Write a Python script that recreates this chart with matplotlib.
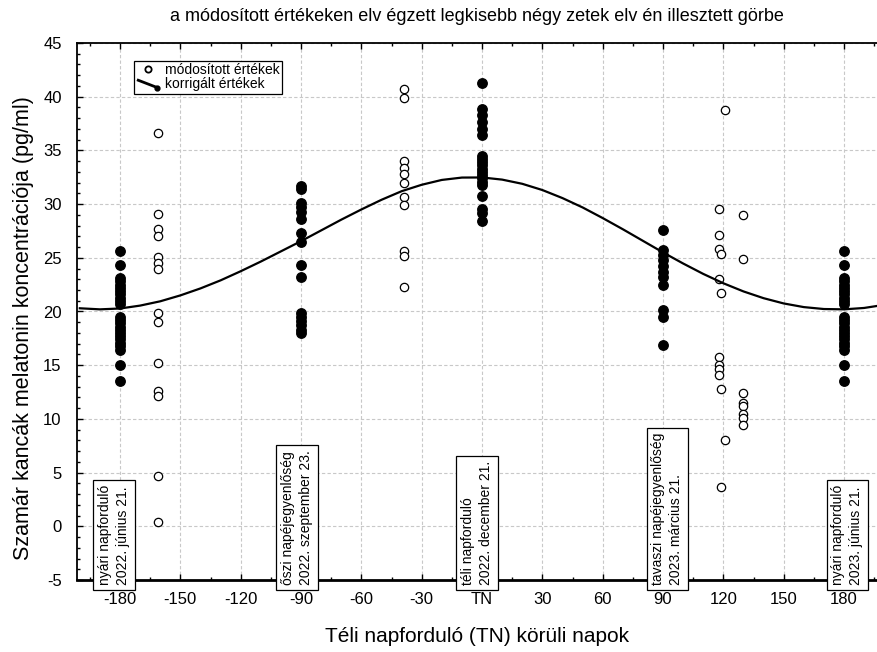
import matplotlib.pyplot as plt
from matplotlib.legend_handler import HandlerBase
from matplotlib.lines import Line2D
from matplotlib.ticker import MultipleLocator, FixedLocator

plt.rcParams['font.family'] = ['Liberation Sans', 'DejaVu Sans']
plt.rcParams['axes.unicode_minus'] = False

# korrigált értékek (filled) - days around winter solstice
jun_values = [25.6, 24.3, 23.1, 22.8, 22.5, 22.2, 21.9, 21.6, 21.3, 21.0, 20.7,
              19.5, 19.2, 18.9, 18.6, 18.3, 18.0, 17.7, 17.4, 17.1, 16.8, 16.4,
              15.0, 13.5]
sep_values = [31.7, 31.4, 30.1, 29.7, 29.3, 28.6, 27.3, 26.5, 24.3, 23.2,
              19.9, 19.5, 19.1, 18.7, 18.3, 18.0]
dec_values = [41.3, 38.9, 38.3, 37.6, 37.0, 36.4, 34.5, 34.2, 33.9, 33.6, 33.3,
              33.0, 32.7, 32.4, 32.1, 31.8, 30.8, 29.5, 29.2, 28.4]
mar_values = [27.6, 25.7, 25.3, 24.8, 24.2, 23.7, 23.2, 22.5, 20.1, 19.5, 16.9]
corr_groups = [(-180, jun_values), (-90, sep_values), (0, dec_values),
               (90, mar_values), (180, jun_values)]

# módosított értékek (open)
mod_days = ([-161] * 14 + [-39] * 11
            + [121, 118, 118, 118, 119, 118, 119, 118, 118, 118, 118, 119, 121, 119]
            + [130] * 8)
mod_values = ([36.6, 29.1, 27.7, 27.0, 25.1, 24.5, 24.0, 19.9, 19.0, 15.2, 12.6, 12.1, 4.7, 0.4]
              + [40.7, 39.9, 34.0, 33.4, 32.8, 32.0, 30.7, 29.9, 25.6, 25.2, 22.3]
              + [38.8, 29.5, 27.1, 25.8, 25.4, 23.0, 21.7, 15.8, 15.0, 14.6, 14.1, 12.8, 8.0, 3.7]
              + [29.0, 24.9, 12.4, 11.5, 11.2, 10.5, 10.1, 9.4])

# fitted curve
curve_days = list(range(-200, 201, 10))
curve_values = [20.30, 20.20, 20.28, 20.55, 20.95, 21.50, 22.15, 22.90, 23.75,
                24.65, 25.60, 26.55, 27.55, 28.55, 29.50, 30.40, 31.20, 31.80,
                32.25, 32.47, 32.48, 32.28, 31.89, 31.31, 30.56, 29.69, 28.70,
                27.66, 26.58, 25.50, 24.47, 23.50, 22.63, 21.87, 21.24, 20.75,
                20.41, 20.23, 20.20, 20.33, 20.62]

xtick_pos = [-180, -150, -120, -90, -60, -30, 0, 30, 60, 90, 120, 150, 180]
xtick_labels = ['-180', '-150', '-120', '-90', '-60', '-30', 'TN', '30', '60',
                '90', '120', '150', '180']

event_days = [-183, -92, -2.5, 92, 181.5]
event_texts = ['nyári napforduló\n2022. június 21.',
               'őszi napéjegyenlőség\n2022. szeptember 23.',
               'téli napforduló\n2022. december 21.',
               'tavaszi napéjegyenlőség\n2023. március 21.',
               'nyári napforduló\n2023. június 21.']


class DiagonalHandler(HandlerBase):
    def create_artists(self, legend, orig_handle, xdescent, ydescent,
                       width, height, fontsize, trans):
        x0 = -xdescent + 0.1 * width
        x1 = -xdescent + 0.9 * width
        y0 = -ydescent + 0.85 * height
        y1 = -ydescent + 0.1 * height
        line = Line2D([x0, x1], [y0, y1], color='black', lw=2, transform=trans)
        dot = Line2D([x1], [y1], marker='o', ms=3.5, color='black', transform=trans)
        return [line, dot]


def main():
    fig = plt.figure(figsize=(8.77, 6.52), dpi=100)
    ax = fig.add_axes([77 / 877, 1 - 580 / 652, 800 / 877, (580 - 43) / 652])

    for day, vals in corr_groups:
        ax.plot([day] * len(vals), vals, 'o', color='black', ms=6.8, zorder=3)
    ax.plot(mod_days, mod_values, 'o', mfc='white', mec='black', ms=6,
            mew=0.9, zorder=3)
    ax.plot(curve_days, curve_values, color='black', lw=1.6, zorder=4)

    ax.set_xlim(-201.4, 196.4)
    ax.set_ylim(-5, 45)
    ax.xaxis.set_major_locator(FixedLocator(xtick_pos))
    ax.set_xticklabels(xtick_labels)
    ax.xaxis.set_minor_locator(MultipleLocator(15))
    ax.yaxis.set_major_locator(MultipleLocator(5))
    ax.yaxis.set_minor_locator(MultipleLocator(1))
    ax.tick_params(which='both', direction='in', top=True, right=False,
                   labelsize=12, width=1)
    ax.tick_params(which='major', length=4, pad=9)
    ax.tick_params(axis='y', which='major', pad=11)
    ax.tick_params(which='minor', length=2.5)
    ax.grid(True, which='major', color='#c8c8c8', ls=(0, (3, 2)), lw=0.8)
    ax.set_axisbelow(True)
    for side in ['left', 'top']:
        ax.spines[side].set_linewidth(1.3)
    ax.spines['bottom'].set_linewidth(2)
    ax.spines['right'].set_visible(False)

    for day, txt in zip(event_days, event_texts):
        ax.annotate(txt, xy=(day, -5), xytext=(0, -3.5), textcoords='offset points',
                    rotation=90, ha='center', va='bottom', fontsize=10,
                    multialignment='left', zorder=5, linespacing=1.3,
                    bbox=dict(boxstyle='square,pad=0.35', fc='white', ec='black', lw=0.9))

    ax.set_title('a módosított értékeken elv égzett legkisebb négy zetek elv én illesztett görbe',
                 fontsize=13, pad=16)
    ax.set_xlabel('Téli napforduló (TN) körüli napok', fontsize=15)
    ax.xaxis.set_label_coords(0.5, -0.087)
    ax.set_ylabel('Szamár kancák melatonin koncentrációja (pg/ml)', fontsize=15.5)
    ax.yaxis.set_label_coords(-0.054, 0.47)

    h_mod = Line2D([], [], marker='o', ls='none', mfc='white', mec='black', ms=4.5, mew=1.3)
    h_corr = Line2D([], [], color='black')
    leg = ax.legend([h_mod, h_corr], ['módosított értékek', 'korrigált értékek'],
                    handler_map={h_corr: DiagonalHandler()},
                    loc='upper left', bbox_to_anchor=(0.071, 0.967), fontsize=10,
                    frameon=True, fancybox=False, edgecolor='black', framealpha=1,
                    borderpad=0.15, labelspacing=0.05, handlelength=1.7,
                    handletextpad=0.4, borderaxespad=0)
    leg.get_frame().set_linewidth(0.9)

    fig.savefig('out.png', dpi=100)


if __name__ == '__main__':
    main()
